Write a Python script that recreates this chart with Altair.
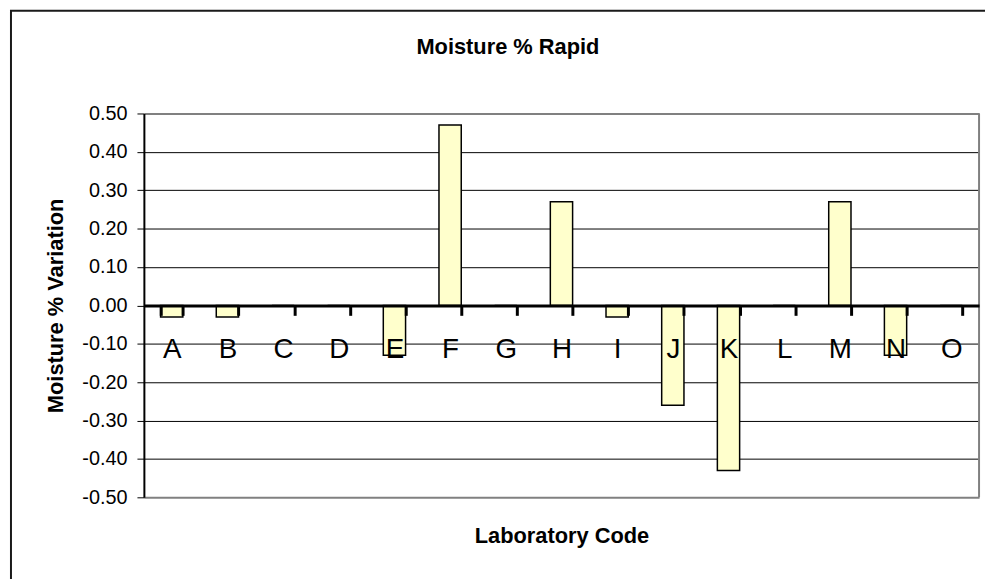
import altair as alt
import pandas as pd

labs = ["A", "B", "C", "D", "E", "F", "G", "H", "I", "J", "K", "L", "M", "N", "O"]
variation = [-0.03, -0.03, 0.0, 0.0, -0.13, 0.47, 0.0, 0.27, -0.03, -0.26, -0.43, 0.0, 0.27, -0.13, 0.0]
y_ticks = [0.5, 0.4, 0.3, 0.2, 0.1, 0.0, -0.1, -0.2, -0.3, -0.4, -0.5]

df = pd.DataFrame({"Lab": labs, "Variation": variation})

FONT = "Arial"
W, H = 842, 387

edge = "abs(datum.value) > 0.49"

bars = alt.Chart(df).mark_bar(fill="#FFFFCC", stroke="black", strokeWidth=1.5).encode(
    x=alt.X(
        "Lab:N",
        sort=labs,
        scale=alt.Scale(paddingInner=0.6, paddingOuter=0.3),
        axis=alt.Axis(
            orient="bottom", offset=-H / 2, grid=False,
            domain=True, domainColor="black", domainWidth=3,
            ticks=True, tickBand="extent", tickColor="black", tickWidth=3, tickSize=10,
            labelFont=FONT, labelFontSize=28, labelColor="black", labelPadding=21, labelAngle=0,
            title="Laboratory Code", titleFont=FONT, titleFontSize=22, titleFontWeight="bold",
            titleColor="black", titleX=W / 2, titleY=238.8, titleAlign="center",
            titleBaseline="alphabetic", zindex=1,
        ),
    ),
    y=alt.Y(
        "Variation:Q",
        scale=alt.Scale(domain=[-0.5, 0.5], nice=False, zero=False),
        axis=alt.Axis(
            values=y_ticks,
            labelExpr="replace(format(datum.value, '.2f'), '\u2212', '-')",
            grid=True,
            gridColor={"condition": {"test": edge, "value": "#808080"}, "value": "black"},
            gridWidth={"condition": {"test": edge, "value": 2}, "value": 1},
            domainColor="black", domainWidth=2,
            tickColor="black", tickWidth=1, tickSize=7,
            labelFont=FONT, labelFontSize=20, labelColor="black", labelPadding=10,
            title="Moisture % Variation", titleFont=FONT, titleFontSize=22,
            titleFontWeight="bold", titleColor="black", titleAngle=270,
            titleX=-82.5, titleY=H / 2, titleAlign="center", titleBaseline="alphabetic",
        ),
    ),
)

right_border = alt.Chart(alt.Data(values=[{}])).mark_rule(color="#808080", strokeWidth=2).encode(
    x=alt.value("width"), y=alt.value(0), y2=alt.value("height")
)

frame = alt.Chart(alt.Data(values=[{}])).mark_rect(
    fill="transparent", stroke="#1a1a1a", strokeWidth=2
).encode(
    x=alt.value(-134), y=alt.value(-103.5), x2=alt.value(870), y2=alt.value(520)
)

chart = alt.layer(frame, bars, right_border).properties(
    width=W,
    height=H,
    title=alt.TitleParams(
        "Moisture % Rapid", font=FONT, fontSize=22, fontWeight="bold", color="black",
        anchor="middle", frame="group", dx=-54, baseline="alphabetic", offset=-66.5,
    ),
    autosize=alt.AutoSizeParams(type="none"),
    padding={"left": 137, "top": 104, "right": 6, "bottom": 80},
    background="white",
).configure_view(strokeWidth=0)

chart.save("out.html", embed_options={"renderer": "svg", "actions": False})
